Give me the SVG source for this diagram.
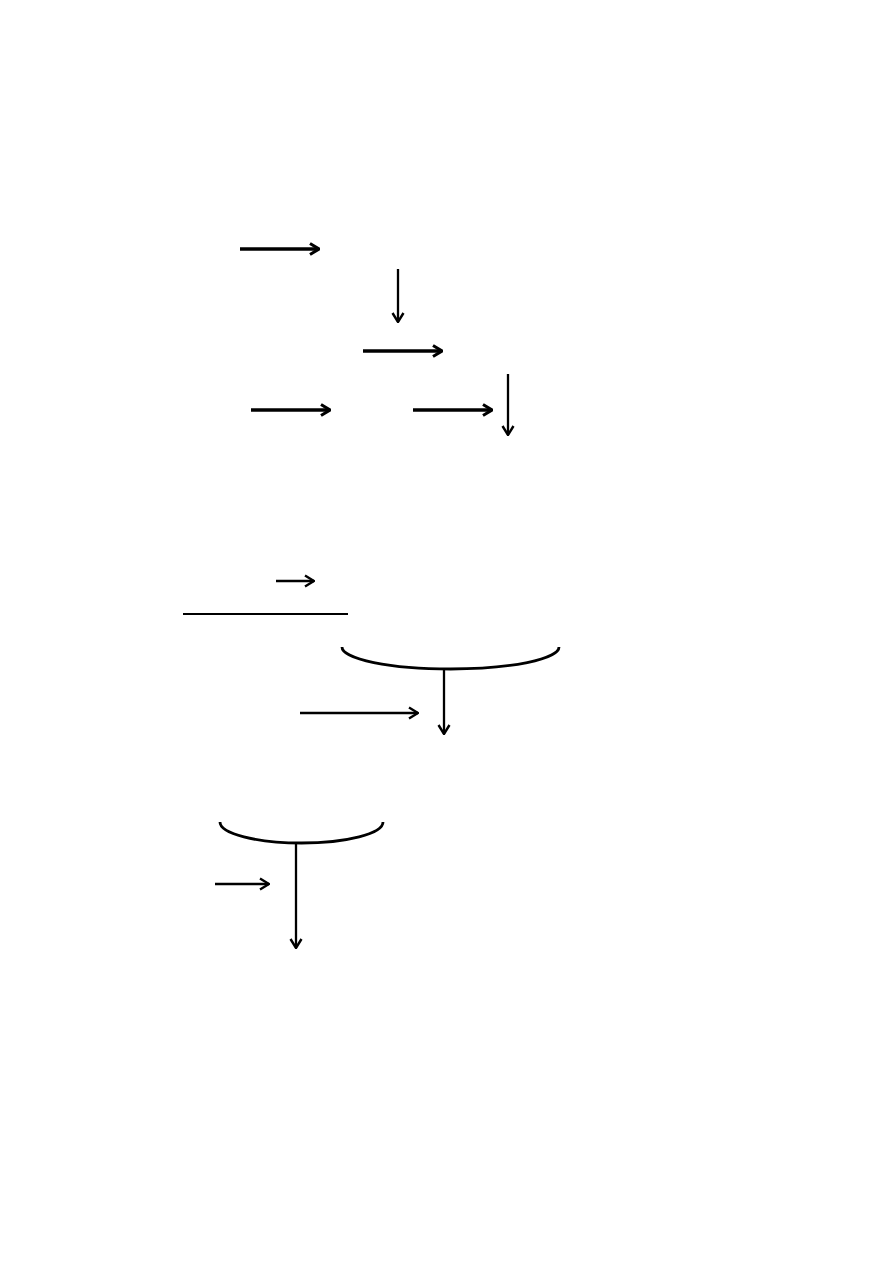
<svg xmlns="http://www.w3.org/2000/svg" width="894" height="1263" viewBox="0 0 894 1263">
  <style>
    .thick { stroke: #000; stroke-width: 3.4; fill: none; marker-end: url(#chev); }
    .thin { stroke: #000; stroke-width: 2.3; fill: none; marker-end: url(#chev2); }
    .plain { stroke: #000; stroke-width: 2; fill: none; }
    .bracket { stroke: #000; stroke-width: 2.8; fill: none; }
  </style>
  <defs>
    <marker id="chev" viewBox="0 0 12 14" refX="11" refY="7" markerWidth="12" markerHeight="14" markerUnits="userSpaceOnUse" orient="auto">
      <path d="M2,1.5 L11,7 L2,12.5" fill="none" stroke="#000" stroke-width="3" stroke-linejoin="miter"/>
    </marker>
    <marker id="chev2" viewBox="0 0 12 14" refX="11" refY="7" markerWidth="12" markerHeight="14" markerUnits="userSpaceOnUse" orient="auto">
      <path d="M2,1.5 L11,7 L2,12.5" fill="none" stroke="#000" stroke-width="2.4" stroke-linejoin="miter"/>
    </marker>
  </defs>
  <rect width="894" height="1263" fill="#fff"/>
  <g id="connectors">
    <line class="thick" x1="240" y1="249" x2="319" y2="249"/>
    <line class="thin" x1="398" y1="269" x2="398" y2="322"/>
    <line class="thick" x1="363" y1="351" x2="442" y2="351"/>
    <line class="thick" x1="251" y1="410" x2="330" y2="410"/>
    <line class="thick" x1="413" y1="410" x2="492" y2="410"/>
    <line class="thin" x1="508" y1="374" x2="508" y2="435"/>
    <line class="thin" x1="276" y1="581" x2="314" y2="581"/>
    <line class="plain" x1="183" y1="614" x2="348" y2="614"/>
    <line class="thin" x1="300" y1="713" x2="418" y2="713"/>
    <line class="thin" x1="444" y1="669" x2="444" y2="734"/>
    <line class="thin" x1="215" y1="884" x2="269" y2="884"/>
    <line class="thin" x1="296" y1="843" x2="296" y2="948"/>
  </g>
  <g id="bracket1">
    <path class="bracket" d="M342,647 A108.5,22 0 0,0 559,647"/>
  </g>
  <g id="bracket2">
    <path class="bracket" d="M220,822 A81.5,21 0 0,0 383,822"/>
  </g>
</svg>
